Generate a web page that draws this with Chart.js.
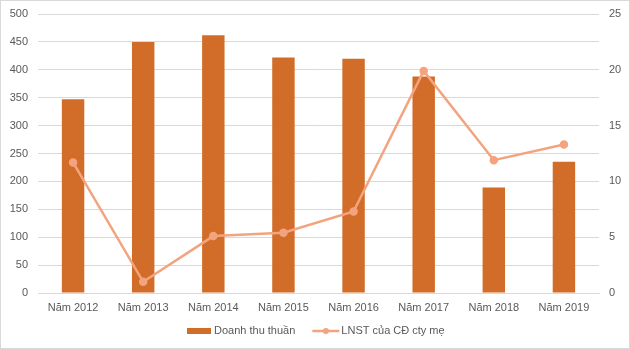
<!DOCTYPE html>
<html>
<head>
<meta charset="utf-8">
<script src="https://cdn.jsdelivr.net/npm/chart.js@4/dist/chart.umd.min.js"></script>
<style>
  html, body { margin: 0; padding: 0; background: #fff; }
  .wrap { position: relative; width: 630px; height: 349px; box-sizing: border-box; border: 1px solid #d9d9d9; }
  canvas { position: absolute; left: 0; top: 0; }
</style>
</head>
<body>
<div class="wrap"><canvas id="chart" width="630" height="349"></canvas></div>
<script>
// categories and series
const years = ["Năm 2012", "Năm 2013", "Năm 2014", "Năm 2015", "Năm 2016", "Năm 2017", "Năm 2018", "Năm 2019"];
const revenue = [347, 450, 462, 422, 420, 388, 189, 235];
const netProfit = [11.7, 1.0, 5.1, 5.4, 7.3, 19.9, 11.9, 13.3];

const revenueLabel = "Doanh thu thuần";
const profitLabel = "LNST của CĐ cty mẹ";

const barColor = "#d26d29";
const lineColor = "#f3a47f";
const gridColor = "#d9d9d9";
const textColor = "#595959";
const fontFamily = "'Liberation Sans', Arial, sans-serif";

// legend drawn under the x axis: a bar swatch and a line-with-dot marker
const bottomLegend = {
    id: "bottomLegend",
    afterDraw(chart) {
        const ctx = chart.ctx;
        const y = 330;
        ctx.save();
        ctx.font = "11px " + fontFamily;
        ctx.textBaseline = "middle";
        ctx.fillStyle = textColor;

        const w1 = ctx.measureText(revenueLabel).width;
        const w2 = ctx.measureText(profitLabel).width;
        const total = 24 + 3 + w1 + 17 + 27 + 2 + w2;
        let x = Math.round(chart.width / 2 - total / 2);

        ctx.fillStyle = barColor;
        ctx.fillRect(x, y - 3, 24, 6);
        x += 27;
        ctx.fillStyle = textColor;
        ctx.fillText(revenueLabel, x, y);
        x += w1 + 17;

        ctx.strokeStyle = lineColor;
        ctx.lineWidth = 2.5;
        ctx.beginPath();
        ctx.moveTo(x, y);
        ctx.lineTo(x + 27, y);
        ctx.stroke();
        ctx.fillStyle = lineColor;
        ctx.beginPath();
        ctx.arc(x + 13.5, y, 3, 0, Math.PI * 2);
        ctx.fill();
        x += 29;
        ctx.fillStyle = textColor;
        ctx.fillText(profitLabel, x, y);
        ctx.restore();
    }
};

// fixed axis sizes so the plot area sits at the same place every time
const fitSide = w => s => { s.width = w; s.paddingTop = 0; s.paddingBottom = 0; };

new Chart(document.getElementById("chart"), {
    type: "bar",
    data: {
        labels: years,
        datasets: [
            {
                type: "line",
                label: profitLabel,
                data: netProfit,
                yAxisID: "y1",
                borderColor: lineColor,
                backgroundColor: lineColor,
                borderWidth: 2.5,
                pointRadius: 3,
                pointHoverRadius: 3,
                tension: 0,
                order: 1
            },
            {
                label: revenueLabel,
                data: revenue,
                yAxisID: "y",
                backgroundColor: barColor,
                barPercentage: 0.32,
                categoryPercentage: 1,
                order: 2
            }
        ]
    },
    options: {
        responsive: false,
        animation: false,
        layout: { padding: { top: 13, left: 0, right: 0, bottom: 0 } },
        plugins: {
            legend: { display: false },
            tooltip: { enabled: false }
        },
        scales: {
            x: {
                offset: true,
                grid: { display: false, drawTicks: false },
                border: { display: true, color: gridColor },
                ticks: { color: textColor, font: { family: fontFamily, size: 11 }, padding: 8, maxRotation: 0 },
                afterFit: s => { s.height = 57; s.paddingLeft = 0; s.paddingRight = 0; }
            },
            y: {
                position: "left",
                min: 0,
                max: 500,
                ticks: { stepSize: 50, color: textColor, font: { family: fontFamily, size: 11 }, padding: 10 },
                grid: { color: gridColor, drawTicks: false },
                border: { display: false },
                afterFit: fitSide(37)
            },
            y1: {
                position: "right",
                min: 0,
                max: 25,
                ticks: { stepSize: 5, color: textColor, font: { family: fontFamily, size: 11 }, padding: 10 },
                grid: { display: false, drawTicks: false },
                border: { display: false },
                afterFit: fitSide(32)
            }
        }
    },
    plugins: [bottomLegend]
});
</script>
</body>
</html>
